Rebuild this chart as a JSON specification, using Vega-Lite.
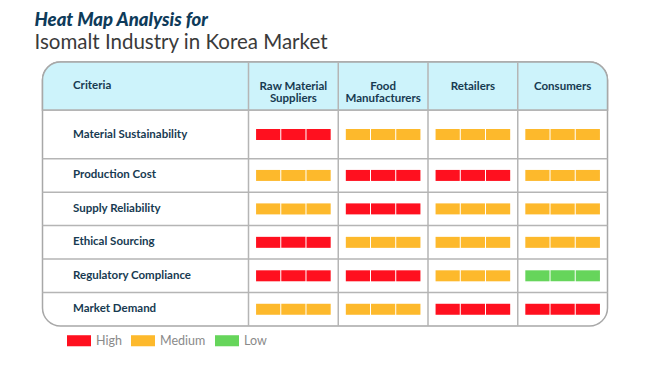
{
  "$schema": "https://vega.github.io/schema/vega-lite/v6.json",
  "width": 565,
  "height": 264,
  "autosize": {"type": "none"},
  "padding": {"left": 42.5, "top": 62, "right": 42.5, "bottom": 39},
  "background": "white",
  "config": {
    "view": {"stroke": "#a8a8a8", "strokeWidth": 1.5, "cornerRadius": 18},
    "font": "Lato"
  },
  "title": {
    "text": "Heat Map Analysis for",
    "subtitle": "Isomalt Industry in Korea Market",
    "anchor": "start",
    "frame": "group",
    "font": "Lato",
    "fontSize": 18.5,
    "fontStyle": "italic",
    "fontWeight": 900,
    "color": "#0E3B5A",
    "subtitleFont": "Lato",
    "subtitleFontSize": 20.5,
    "subtitleColor": "#3A3A3A",
    "subtitleFontWeight": "normal",
    "subtitlePadding": 3,
    "dx": -8,
    "offset": 8
  },
  "datasets": {
    "cells": [
      {"criteria": "Material Sustainability", "stakeholder": "Raw Material Suppliers", "level": "High"},
      {"criteria": "Material Sustainability", "stakeholder": "Food Manufacturers", "level": "Medium"},
      {"criteria": "Material Sustainability", "stakeholder": "Retailers", "level": "Medium"},
      {"criteria": "Material Sustainability", "stakeholder": "Consumers", "level": "Medium"},
      {"criteria": "Production Cost", "stakeholder": "Raw Material Suppliers", "level": "Medium"},
      {"criteria": "Production Cost", "stakeholder": "Food Manufacturers", "level": "High"},
      {"criteria": "Production Cost", "stakeholder": "Retailers", "level": "High"},
      {"criteria": "Production Cost", "stakeholder": "Consumers", "level": "Medium"},
      {"criteria": "Supply Reliability", "stakeholder": "Raw Material Suppliers", "level": "Medium"},
      {"criteria": "Supply Reliability", "stakeholder": "Food Manufacturers", "level": "High"},
      {"criteria": "Supply Reliability", "stakeholder": "Retailers", "level": "Medium"},
      {"criteria": "Supply Reliability", "stakeholder": "Consumers", "level": "Medium"},
      {"criteria": "Ethical Sourcing", "stakeholder": "Raw Material Suppliers", "level": "High"},
      {"criteria": "Ethical Sourcing", "stakeholder": "Food Manufacturers", "level": "Medium"},
      {"criteria": "Ethical Sourcing", "stakeholder": "Retailers", "level": "Medium"},
      {"criteria": "Ethical Sourcing", "stakeholder": "Consumers", "level": "Medium"},
      {"criteria": "Regulatory Compliance", "stakeholder": "Raw Material Suppliers", "level": "High"},
      {"criteria": "Regulatory Compliance", "stakeholder": "Food Manufacturers", "level": "High"},
      {"criteria": "Regulatory Compliance", "stakeholder": "Retailers", "level": "Medium"},
      {"criteria": "Regulatory Compliance", "stakeholder": "Consumers", "level": "Low"},
      {"criteria": "Market Demand", "stakeholder": "Raw Material Suppliers", "level": "Medium"},
      {"criteria": "Market Demand", "stakeholder": "Food Manufacturers", "level": "Medium"},
      {"criteria": "Market Demand", "stakeholder": "Retailers", "level": "High"},
      {"criteria": "Market Demand", "stakeholder": "Consumers", "level": "High"}
    ]
  },
  "data": {"name": "cells"},
  "layer": [
    {
      "transform": [{"filter": "datum.criteria === 'Material Sustainability'"}],
      "encoding": {
        "y": {
          "field": "criteria",
          "type": "nominal",
          "scale": {"domain": ["Criteria", "Material Sustainability"], "range": [0, 96.7], "paddingInner": 0, "paddingOuter": 0},
          "axis": {"orient": "left", "title": null, "offset": -30, "labelAlign": "left", "labelBaseline": "middle", "labelPadding": 0, "ticks": false, "tickSize": 0, "domain": false, "grid": false, "labelFont": "Lato", "labelFontWeight": "bold", "labelFontSize": 11.5, "labelColor": "#173A51", "labelLimit": 200}
        }
      },
      "layer": [
        {
          "data": {"values": [{"part": "header"}]},
          "mark": {"type": "rect", "fill": "#CDF3FB", "stroke": "#a8a8a8", "strokeWidth": 1.5, "cornerRadiusTopLeft": 18, "cornerRadiusTopRight": 18},
          "encoding": {"y": {"datum": "Criteria", "type": "nominal"}}
        },
        {
          "transform": [{"aggregate": [{"op": "count", "as": "n"}], "groupby": ["criteria"]}],
          "mark": {"type": "rule", "color": "#b5b5b5", "strokeWidth": 1.5},
          "encoding": {"y": {"field": "criteria", "type": "nominal", "bandPosition": 0}}
        },
        {
          "encoding": {
            "x": {
              "field": "stakeholder",
              "type": "nominal",
              "scale": {"domain": ["Raw Material Suppliers", "Food Manufacturers", "Retailers", "Consumers"], "range": [206, 565], "paddingInner": 0, "paddingOuter": 0},
              "axis": {"orient": "top", "title": null, "offset": -24, "labelAngle": 0, "labelAlign": "center", "labelBaseline": "middle", "labelPadding": 0, "ticks": false, "tickSize": 0, "domain": false, "grid": false, "labelFont": "Lato", "labelFontWeight": "bold", "labelFontSize": 11.5, "labelLineHeight": 12.5, "labelColor": "#173A51", "labelLimit": 200,
                "labelExpr": "datum.value == 'Raw Material Suppliers' ? ['Raw Material', 'Suppliers'] : datum.value == 'Food Manufacturers' ? ['Food', 'Manufacturers'] : datum.value"}
            },
            "color": {
              "field": "level",
              "type": "nominal",
              "scale": {"domain": ["High", "Medium", "Low"], "range": ["#FF101F", "#FDB92C", "#66D55B"]},
              "legend": {"orient": "none", "legendX": 24.5, "legendY": 266.5, "direction": "horizontal", "title": null, "padding": 0, "symbolType": "M-1,-0.46H1V0.46H-1Z", "symbolSize": 576, "symbolStrokeWidth": 0, "symbolOpacity": 1, "labelFont": "Lato", "labelFontSize": 12.5, "labelColor": "#8a8a8a", "labelOffset": 5, "columnPadding": 9}
            }
          },
          "layer": [
            {"mark": {"type": "rect", "height": 11}, "encoding": {"xOffset": {"datum": "s1", "type": "nominal", "scale": {"domain": ["s1", "s2", "s3"], "paddingInner": 0.04, "paddingOuter": 0.3}}}},
            {"mark": {"type": "rect", "height": 11}, "encoding": {"xOffset": {"datum": "s2", "type": "nominal"}}},
            {"mark": {"type": "rect", "height": 11}, "encoding": {"xOffset": {"datum": "s3", "type": "nominal"}}}
          ]
        }
      ]
    },
    {
      "transform": [{"filter": "datum.criteria !== 'Material Sustainability'"}],
      "encoding": {
        "y": {
          "field": "criteria",
          "type": "nominal",
          "scale": {"domain": ["Production Cost", "Supply Reliability", "Ethical Sourcing", "Regulatory Compliance", "Market Demand"], "range": [96.7, 264], "paddingInner": 0, "paddingOuter": 0},
          "axis": {"orient": "left", "title": null, "offset": -30, "labelAlign": "left", "labelBaseline": "middle", "labelPadding": 0, "ticks": false, "tickSize": 0, "domain": false, "grid": false, "labelFont": "Lato", "labelFontWeight": "bold", "labelFontSize": 11.5, "labelColor": "#173A51", "labelLimit": 200}
        }
      },
      "layer": [
        {
          "transform": [{"aggregate": [{"op": "count", "as": "n"}], "groupby": ["criteria"]}],
          "mark": {"type": "rule", "color": "#b5b5b5", "strokeWidth": 1.5},
          "encoding": {"y": {"field": "criteria", "type": "nominal", "bandPosition": 0}}
        },
        {
          "encoding": {
            "x": {"field": "stakeholder", "type": "nominal"},
            "color": {"field": "level", "type": "nominal"}
          },
          "layer": [
            {"mark": {"type": "rect", "height": 11}, "encoding": {"xOffset": {"datum": "s1", "type": "nominal"}}},
            {"mark": {"type": "rect", "height": 11}, "encoding": {"xOffset": {"datum": "s2", "type": "nominal"}}},
            {"mark": {"type": "rect", "height": 11}, "encoding": {"xOffset": {"datum": "s3", "type": "nominal"}}}
          ]
        }
      ]
    },
    {
      "transform": [{"aggregate": [{"op": "count", "as": "n"}], "groupby": ["stakeholder"]}],
      "mark": {"type": "rule", "color": "#b5b5b5", "strokeWidth": 1.5},
      "encoding": {"x": {"field": "stakeholder", "type": "nominal", "bandPosition": 0}}
    }
  ],
  "resolve": {"scale": {"y": "independent"}}
}
